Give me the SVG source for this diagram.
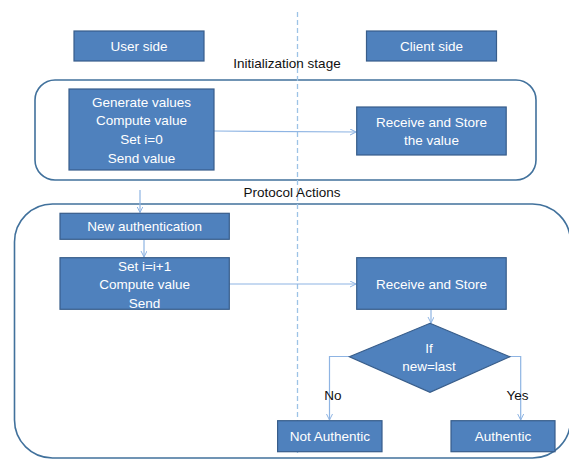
<svg xmlns="http://www.w3.org/2000/svg" width="569" height="459" viewBox="0 0 569 459">
<defs>
<marker id="arr" markerWidth="8" markerHeight="8" refX="6" refY="3" orient="auto" markerUnits="userSpaceOnUse">
<path d="M0,0 L6,3 L0,6" fill="none" stroke="#8EB4E3" stroke-width="1"/>
</marker>
<style>
.box{fill:#4F81BD;stroke:#385D8A;stroke-width:1.2}
.bt{fill:#fff;font-family:"Liberation Sans",Arial,sans-serif;font-size:13.5px;text-anchor:middle}
.lbl{fill:#111;font-family:"Liberation Sans",Arial,sans-serif;font-size:13.5px;text-anchor:middle}
.grp{fill:none;stroke:#41719C;stroke-width:1.6}
.con{fill:none;stroke:#8EB4E3;stroke-width:1.2}
</style>
</defs>
<rect width="569" height="459" fill="#fff"/>
<g id="stage-init"><rect class="grp" x="35" y="80" width="501" height="100" rx="20"/></g>
<g id="stage-protocol"><rect class="grp" x="14.5" y="204" width="556" height="254" rx="38"/></g>
<g id="connectors">
<line x1="297.5" y1="12" x2="297.5" y2="453" stroke="#9DC3E6" stroke-width="1.3" stroke-dasharray="5,3"/>
<line class="con" x1="214" y1="131" x2="356" y2="132" marker-end="url(#arr)"/>
<line class="con" x1="140" y1="190" x2="140" y2="212.5" marker-end="url(#arr)"/>
<line class="con" x1="144" y1="239.5" x2="144" y2="257" marker-end="url(#arr)"/>
<line class="con" x1="229" y1="284" x2="356" y2="284" marker-end="url(#arr)"/>
<line class="con" x1="431" y1="309.5" x2="431" y2="323" marker-end="url(#arr)"/>
<polyline class="con" points="349.5,356.5 329.5,356.5 329.5,420" marker-end="url(#arr)"/>
<polyline class="con" points="509.5,356.5 520.7,356.5 520.7,420" marker-end="url(#arr)"/>
</g>
<g id="user-side"><rect class="box" x="74" y="31" width="130" height="30"/><text class="bt" x="139" y="51">User side</text></g>
<g id="client-side"><rect class="box" x="366.5" y="31" width="130" height="30"/><text class="bt" x="431.5" y="51">Client side</text></g>
<text class="lbl" x="287" y="68">Initialization stage</text>
<g id="generate"><rect class="box" x="69" y="89" width="145" height="81"/>
<text class="bt" x="141.5" y="106.5">Generate values</text>
<text class="bt" x="141.5" y="125">Compute value</text>
<text class="bt" x="141.5" y="144">Set i=0</text>
<text class="bt" x="141.5" y="162.5">Send value</text></g>
<g id="receive-store-value"><rect class="box" x="356.7" y="107" width="149.5" height="48"/>
<text class="bt" x="431.5" y="127">Receive and Store</text>
<text class="bt" x="431.5" y="145">the value</text></g>
<text class="lbl" x="292" y="197">Protocol Actions</text>
<g id="new-auth"><rect class="box" x="60" y="213.3" width="169.3" height="26"/><text class="bt" x="144.6" y="231">New authentication</text></g>
<g id="set-compute"><rect class="box" x="60" y="257.7" width="169.3" height="51.6"/>
<text class="bt" x="144.6" y="270.5">Set i=i+1</text>
<text class="bt" x="144.6" y="289">Compute value</text>
<text class="bt" x="144.6" y="307.5">Send</text></g>
<g id="receive-store"><rect class="box" x="356.7" y="257.7" width="149.5" height="51.6"/><text class="bt" x="431.5" y="288.5">Receive and Store</text></g>
<g id="decision"><polygon class="box" points="430,323.3 509.8,356.7 430,392.3 349.4,356.7"/>
<text class="bt" x="429" y="352.5">If</text>
<text class="bt" x="429" y="371">new=last</text></g>
<text class="lbl" x="333" y="399.5">No</text>
<text class="lbl" x="517.5" y="399.5">Yes</text>
<g id="not-authentic"><rect class="box" x="277.6" y="420.7" width="104.4" height="31"/><text class="bt" x="329.8" y="441">Not Authentic</text></g>
<g id="authentic"><rect class="box" x="451" y="420.7" width="104" height="31"/><text class="bt" x="503" y="441">Authentic</text></g>
</svg>
